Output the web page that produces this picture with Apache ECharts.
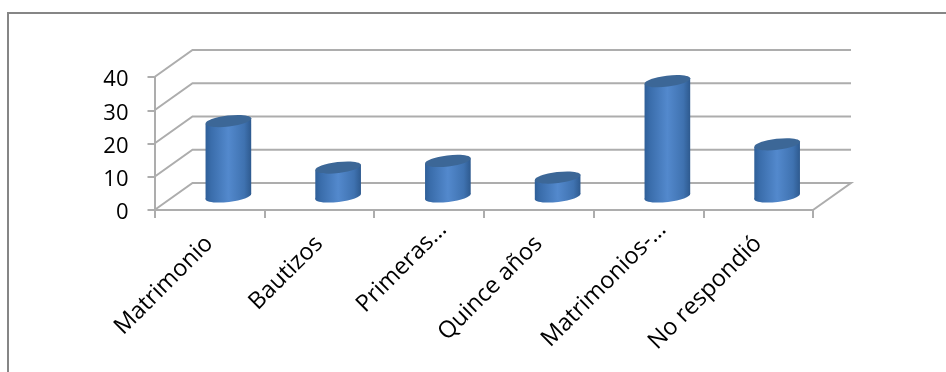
<!DOCTYPE html>
<html>
<head>
<meta charset="utf-8">
<style>html,body{margin:0;padding:0;background:#fff}#c{width:946px;height:372px}</style>
<script src="https://cdn.jsdelivr.net/npm/echarts@6/dist/echarts.min.js"></script>
</head>
<body>
<div id="c"></div>
<script>
const categories = ['Matrimonio', 'Bautizos', 'Primeras…', 'Quince años', 'Matrimonios-…', 'No respondió'];
const values = [23, 9, 11, 6, 35, 16];
const yTicks = [0, 10, 20, 30, 40];

const DX = 38, DY = -27;
const GRID = '#adadad';
const FONT = '"Open Sans"';
const bodyGrad = () => new echarts.graphic.LinearGradient(0, 0, 1, 0, [
  {offset: 0, color: '#2f5f98'},
  {offset: 0.12, color: '#3a6dab'},
  {offset: 0.5, color: '#5389cd'},
  {offset: 0.85, color: '#3f72b0'},
  {offset: 1, color: '#2e5a8f'}
]);

function renderWall(params, api) {
  const v = api.value(0);
  const cs = params.coordSys;
  const y = api.coord([0, v])[1];
  const x0 = cs.x, x1 = cs.x + cs.width;
  const pts = [[x0, y], [x0 + DX, y + DY], [x1 + DX, y + DY]];
  if (v === 0) pts.push([x1, y]);
  return {type: 'polyline', shape: {points: pts},
    style: {stroke: GRID, lineWidth: 2, fill: null}};
}

function renderBar(params, api) {
  const i = api.value(0), v = api.value(1);
  const top = api.coord([i, v]), base = api.coord([i, 0]);
  const cx = top[0] + DX / 2, yt = top[1] + DY / 2 + 1, yb = base[1] + DY / 2;
  const rx = 23, ry = 5.5, tilt = 0.12;
  const ex = rx * Math.cos(tilt), ey = rx * Math.sin(tilt);
  const ell = (y, fill) => ({type: 'ellipse', x: cx, y: y, rotation: tilt,
    shape: {cx: 0, cy: 0, rx: rx, ry: ry}, style: {fill: fill}});
  return {type: 'group', children: [
    ell(yb, bodyGrad()),
    {type: 'polygon', shape: {points: [[cx - ex, yt + ey], [cx + ex, yt - ey], [cx + ex, yb - ey], [cx - ex, yb + ey]]},
      style: {fill: bodyGrad()}},
    ell(yt, '#3c6797')
  ]};
}

const axisCategories = categories.map(c => c.endsWith('…')
  ? {value: c, textStyle: {padding: [0, -20, 0, 0]}}
  : c);

const chart = echarts.init(document.getElementById('c'), null, {renderer: 'canvas'});
chart.setOption({
  animation: false,
  backgroundColor: '#fff',
  grid: {left: 154.5, right: 133, top: 77, bottom: 162, containLabel: false},
  xAxis: {
    type: 'category', data: axisCategories,
    axisLine: {lineStyle: {color: GRID, width: 2}},
    axisTick: {show: true, length: 8, alignWithLabel: false, lineStyle: {color: GRID, width: 2}},
    axisLabel: {interval: 0, rotate: 45, margin: 30, color: '#000', fontFamily: FONT, fontSize: 23.5}
  },
  yAxis: {
    type: 'value', min: 0, max: 40, interval: 10,
    axisLine: {show: true, lineStyle: {color: GRID, width: 2}},
    axisTick: {show: true, length: 7, lineStyle: {color: GRID, width: 2}},
    splitLine: {show: false},
    axisLabel: {margin: 26, color: '#000', fontFamily: FONT, fontSize: 22, verticalAlign: 'top', lineHeight: 6}
  },
  series: [
    {type: 'custom', data: yTicks.map(v => [v]), encode: {y: 0}, renderItem: renderWall, z: 1, silent: true},
    {type: 'custom', data: values.map((v, i) => [i, v]), encode: {x: 0, y: 1}, renderItem: renderBar, z: 3, silent: true}
  ],
  graphic: [{type: 'polyline', silent: true, z: 10,
    shape: {points: [[8, 372], [8, 13], [946, 13]]},
    style: {stroke: '#868686', lineWidth: 2, fill: null}}]
});
</script>
</body>
</html>
